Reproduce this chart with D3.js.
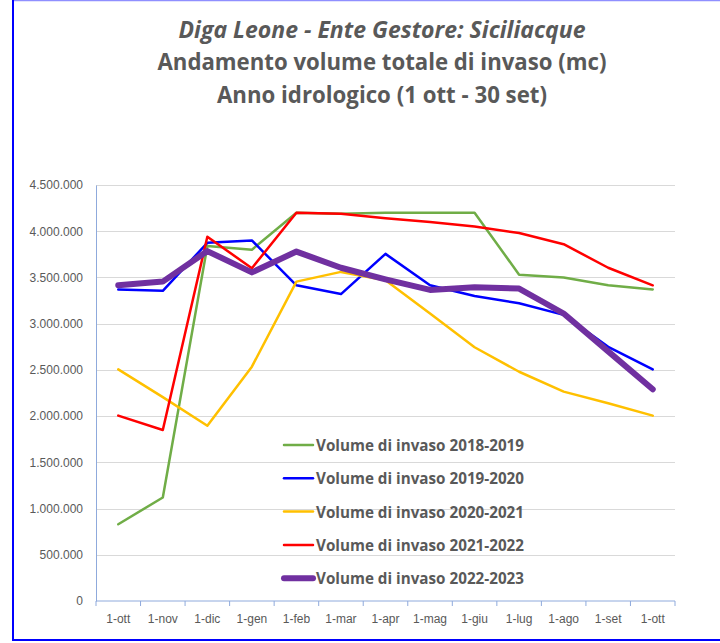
<!DOCTYPE html>
<html>
<head>
<meta charset="utf-8">
<script src="https://cdn.jsdelivr.net/npm/d3@7"></script>
<style>
  body { margin: 0; background: #fff; }
  svg { display: block; }
</style>
</head>
<body>
<div id="chart"></div>
<script>
// Categories (first of each month, hydrological year)
const months = ["1-ott", "1-nov", "1-dic", "1-gen", "1-feb", "1-mar", "1-apr",
                "1-mag", "1-giu", "1-lug", "1-ago", "1-set", "1-ott "];

// Volume di invaso (mc)
const vol2018 = [830000, 1120000, 3840000, 3800000, 4200000, 4190000, 4200000,
                 4200000, 4200000, 3530000, 3500000, 3415000, 3370000];
const vol2019 = [3370000, 3355000, 3875000, 3900000, 3415000, 3320000, 3755000,
                 3415000, 3300000, 3220000, 3095000, 2750000, 2505000];
const vol2020 = [2505000, 2205000, 1895000, 2535000, 3455000, 3560000, 3470000,
                 3110000, 2745000, 2480000, 2265000, 2140000, 2005000];
const vol2021 = [2005000, 1850000, 3940000, 3600000, 4200000, 4190000, 4140000,
                 4100000, 4050000, 3980000, 3860000, 3605000, 3415000];
const vol2022 = [3415000, 3455000, 3785000, 3555000, 3780000, 3605000, 3480000,
                 3365000, 3395000, 3380000, 3110000, 2700000, 2290000];

const yTicks = [0, 500000, 1000000, 1500000, 2000000, 2500000, 3000000,
                3500000, 4000000, 4500000];

const titleLines = ["Diga Leone - Ente Gestore: Siciliacque",
                    "Andamento volume totale di invaso (mc)",
                    "Anno idrologico (1 ott - 30 set)"];

const series = [
  { name: "Volume di invaso 2018-2019", values: vol2018, color: "#70ad47", w: 2.5 },
  { name: "Volume di invaso 2019-2020", values: vol2019, color: "#0000ff", w: 2.5 },
  { name: "Volume di invaso 2020-2021", values: vol2020, color: "#ffc000", w: 2.5 },
  { name: "Volume di invaso 2021-2022", values: vol2021, color: "#ff0000", w: 2.5 },
  { name: "Volume di invaso 2022-2023", values: vol2022, color: "#7030a0", w: 6 }
];

const width = 720, height = 643;
const margin = { left: 96, right: 45, top: 185, bottom: 42 };
const textColor = "#595959";

const svg = d3.select("#chart").append("svg")
    .attr("width", width)
    .attr("height", height);

// frame
svg.append("line").attr("x1", 12).attr("x2", width).attr("y1", 0.5).attr("y2", 0.5)
    .attr("stroke", "#8f8fff").attr("stroke-width", 1.5);
svg.append("line").attr("x1", 13).attr("x2", 13).attr("y1", 0).attr("y2", 640)
    .attr("stroke", "#0000ff").attr("stroke-width", 2);
svg.append("line").attr("x1", 12).attr("x2", width).attr("y1", 640).attr("y2", 640)
    .attr("stroke", "#0000ff").attr("stroke-width", 2);

// title
const titleWidths = [407, 449, 330];
const titleY = [38, 70, 103];
svg.append("g").selectAll("text")
    .data(titleLines)
    .enter().append("text")
    .attr("x", 382)
    .attr("y", (d, i) => titleY[i])
    .attr("text-anchor", "middle")
    .attr("font-family", "'Open Sans', sans-serif")
    .attr("font-weight", "bold")
    .attr("font-style", (d, i) => i === 0 ? "italic" : "normal")
    .attr("font-size", "22.5px")
    .attr("fill", textColor)
    .attr("textLength", (d, i) => titleWidths[i])
    .attr("lengthAdjust", "spacingAndGlyphs")
    .text(d => d);

const x = d3.scaleBand()
    .domain(months)
    .range([margin.left, width - margin.right]);

const y = d3.scaleLinear()
    .domain([0, 4500000])
    .range([height - margin.bottom, margin.top]);

const itFormat = d3.formatLocale({ decimal: ",", thousands: ".", grouping: [3], currency: ["", "€"] })
    .format(",d");

// gridlines
svg.append("g").selectAll("line")
    .data(yTicks.slice(1))
    .enter().append("line")
    .attr("x1", margin.left).attr("x2", width - margin.right)
    .attr("y1", d => Math.round(y(d)) + 0.5).attr("y2", d => Math.round(y(d)) + 0.5)
    .attr("stroke", "#d9d9d9").attr("stroke-width", 1);

// y axis
const yAxis = svg.append("g")
    .attr("transform", `translate(${margin.left},0)`)
    .call(d3.axisLeft(y).tickValues(yTicks).tickFormat(itFormat).tickSize(0).tickPadding(13));
yAxis.select(".domain").attr("stroke", "#8faadc");
yAxis.selectAll("text")
    .attr("font-family", "'Liberation Sans', Arial, sans-serif")
    .attr("font-size", "12px")
    .attr("fill", textColor);

// x axis with ticks at category boundaries
const xAxisG = svg.append("g")
    .attr("transform", `translate(0,${height - margin.bottom})`);
xAxisG.append("line")
    .attr("x1", margin.left).attr("x2", width - margin.right)
    .attr("stroke", "#8faadc").attr("stroke-width", 1);
xAxisG.selectAll(".tk")
    .data(months.map(m => x(m)).concat([x(months[months.length - 1]) + x.bandwidth()]))
    .enter().append("line")
    .attr("class", "tk")
    .attr("x1", d => d).attr("x2", d => d)
    .attr("y1", 0).attr("y2", 5)
    .attr("stroke", "#8faadc");
xAxisG.selectAll(".lbl")
    .data(months)
    .enter().append("text")
    .attr("class", "lbl")
    .attr("x", d => x(d) + x.bandwidth() / 2)
    .attr("y", 22)
    .attr("text-anchor", "middle")
    .attr("font-family", "'Liberation Sans', Arial, sans-serif")
    .attr("font-size", "12px")
    .attr("fill", textColor)
    .text(d => d.trim());

// lines
const line = d3.line()
    .x((d, i) => x(months[i]) + x.bandwidth() / 2)
    .y(d => y(d));

svg.append("g").selectAll("path")
    .data(series)
    .enter().append("path")
    .attr("fill", "none")
    .attr("stroke", d => d.color)
    .attr("stroke-width", d => d.w)
    .attr("stroke-linejoin", "round")
    .attr("stroke-linecap", "round")
    .attr("d", d => line(d.values));

// legend
const legend = svg.append("g")
    .attr("transform", "translate(284,445)");
const legItems = legend.selectAll("g")
    .data(series)
    .enter().append("g")
    .attr("transform", (d, i) => `translate(0,${i * 33.3})`);
legItems.append("line")
    .attr("x1", 0).attr("x2", 29)
    .attr("stroke", d => d.color)
    .attr("stroke-width", d => d.w)
    .attr("stroke-linecap", "round");
legItems.append("text")
    .attr("x", 32)
    .attr("y", 6)
    .attr("font-family", "'Open Sans', sans-serif")
    .attr("font-weight", "bold")
    .attr("font-size", "15.5px")
    .attr("fill", textColor)
    .attr("textLength", 208)
    .attr("lengthAdjust", "spacingAndGlyphs")
    .text(d => d.name);
</script>
</body>
</html>
